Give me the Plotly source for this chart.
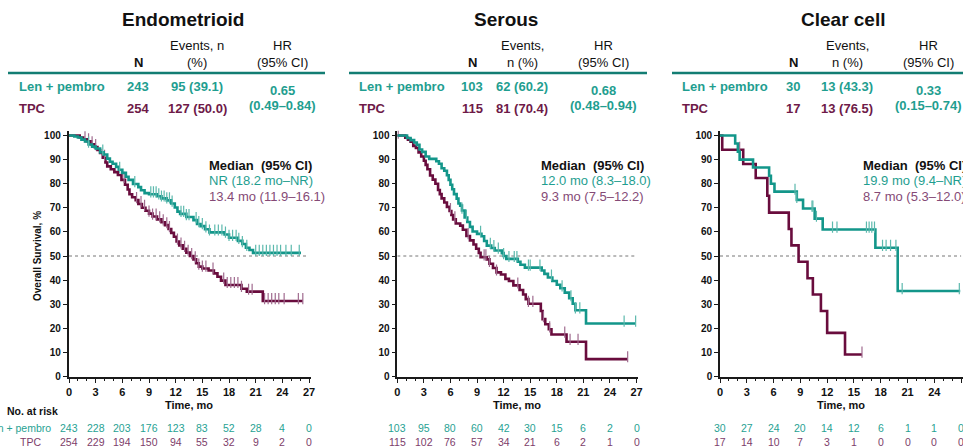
import numpy as np
import plotly.graph_objects as go

W, H = 963, 448

# ---------------- data ----------------
subtypes = ["Endometrioid", "Serous", "Clear cell"]
arm_labels = ["Len + pembro", "TPC"]
n_len = ["243", "103", "30"]
n_tpc = ["254", "115", "17"]
events_len = ["95 (39.1)", "62 (60.2)", "13 (43.3)"]
events_tpc = ["127 (50.0)", "81 (70.4)", "13 (76.5)"]
events_hdr1 = ["Events, n", "Events,", "Events,"]
events_hdr2 = ["(%)", "n (%)", "n (%)"]
hr_val = ["0.65", "0.68", "0.33"]
hr_ci = ["(0.49–0.84)", "(0.48–0.94)", "(0.15–0.74)"]
median_len = ["NR (18.2 mo–NR)", "12.0 mo (8.3–18.0)", "19.9 mo (9.4–NR)"]
median_tpc = ["13.4 mo (11.9–16.1)", "9.3 mo (7.5–12.2)", "8.7 mo (5.3–12.0)"]

risk_times = [0, 3, 6, 9, 12, 15, 18, 21, 24, 27]
risk_len = [
    [243, 228, 203, 176, 123, 83, 52, 28, 4, 0],
    [103, 95, 80, 60, 42, 30, 15, 6, 2, 0],
    [30, 27, 24, 20, 14, 12, 6, 1, 1, 0],
]
risk_tpc = [
    [254, 229, 194, 150, 94, 55, 32, 9, 2, 0],
    [115, 102, 76, 57, 34, 21, 6, 2, 1, 0],
    [17, 14, 10, 7, 3, 1, 0, 0, 0, 0],
]

# KM step curves (time in months, survival %)
endo_len_t = [0, 0.6, 1.0, 1.4, 1.8, 2.2, 2.6, 3.0, 3.5, 3.9, 4.3, 4.6, 4.9, 5.3, 5.6, 6.0, 6.4, 6.7,
              7.2, 7.8, 8.1, 8.5, 9.0, 9.9, 10.4, 11.0, 11.5, 11.9, 12.2, 12.5, 13.2, 14.0, 14.4,
              14.8, 15.3, 15.8, 17.5, 18.0, 19.0, 19.5, 19.9, 20.3, 20.7, 26.1]
endo_len_s = [100, 99.6, 99.2, 98.3, 97.5, 96.3, 95.4, 94.6, 93.0, 92.1, 90.4, 89.1, 88.3, 87.0, 85.8,
              84.5, 82.9, 81.6, 79.9, 78.6, 77.3, 76.1, 75.6, 74.8, 73.9, 73.1, 71.8, 70.1, 68.4,
              67.5, 66.2, 64.9, 63.3, 62.4, 61.1, 59.8, 58.9, 57.6, 56.3, 55.0, 53.4, 52.5, 51.3, 51.3]
endo_tpc_t = [0, 1.2, 1.6, 2.0, 2.5, 2.9, 3.2, 3.5, 3.8, 4.1, 4.3, 4.7, 5.1, 5.5, 5.9, 6.3, 6.6, 6.8,
              7.1, 7.5, 7.8, 8.2, 8.6, 9.0, 9.4, 9.9, 10.4, 10.8, 11.2, 11.5, 11.8, 12.1, 12.4, 12.8,
              13.2, 13.6, 14.0, 14.3, 14.6, 15.0, 15.7, 16.3, 16.7, 17.1, 17.6, 19.4, 20.0, 21.8, 26.3]
endo_tpc_s = [100, 99.2, 98.4, 97.6, 96.4, 95.2, 94.0, 92.8, 90.8, 88.8, 87.2, 86.0, 84.8, 83.6, 81.6,
              79.6, 77.6, 75.6, 74.4, 73.2, 71.6, 70.0, 68.8, 67.6, 66.4, 65.2, 64.0, 62.8, 61.2,
              59.6, 58.0, 56.0, 54.4, 53.0, 51.4, 50.0, 48.6, 47.0, 45.6, 44.8, 44.0, 42.8, 41.4,
              39.8, 38.0, 36.4, 35.2, 31.3, 31.3]
endo_len_cens = [2.2, 3.8, 5.7, 7.4, 9.2, 9.5, 9.8, 10.1, 10.4, 10.7, 11.0, 11.3, 11.6, 12.6, 12.9,
                 13.2, 13.5, 14.3, 14.6, 15.0, 15.4, 15.8, 16.4, 16.8, 17.2, 17.6, 18.0, 18.4, 18.8,
                 19.1, 19.5, 20.0, 21.0, 21.4, 21.8, 22.2, 22.6, 23.0, 23.4, 23.8, 24.4, 25.0, 25.9]
endo_tpc_cens = [1.8, 2.2, 2.6, 3.0, 4.0, 6.2, 7.6, 8.1, 8.5, 9.0, 9.4, 9.8, 10.2, 10.6, 11.0, 11.3,
                 12.2, 12.6, 13.0, 13.4, 13.8, 14.2, 14.6, 15.0, 15.4, 16.2, 17.4, 17.8, 18.2, 18.6,
                 19.0, 19.4, 20.2, 20.6, 22.0, 22.4, 22.8, 23.2, 23.6, 24.2, 25.8, 26.3]

ser_len_t = [0, 1.1, 1.5, 1.9, 2.2, 2.5, 2.8, 3.2, 3.6, 4.4, 4.7, 5.0, 5.3, 5.6, 5.8, 6.0, 6.2, 6.4,
             6.7, 6.9, 7.1, 7.3, 7.6, 7.9, 8.2, 8.5, 9.0, 9.5, 9.8, 10.1, 10.6, 11.0, 11.8, 12.0,
             12.3, 13.6, 13.9, 14.4, 16.3, 16.6, 17.0, 17.5, 18.0, 18.4, 18.9, 19.4, 19.8, 20.1,
             21.3, 26.9]
ser_len_s = [100, 99.0, 98.1, 97.1, 96.1, 94.2, 93.2, 91.3, 90.3, 89.3, 88.3, 86.4, 85.4, 83.5, 81.6,
             79.6, 77.7, 75.7, 73.8, 71.8, 70.9, 68.9, 66.0, 64.1, 62.1, 60.2, 59.2, 58.2, 56.2,
             54.3, 53.3, 52.3, 51.2, 50.0, 48.8, 47.6, 46.4, 45.2, 44.0, 42.6, 41.1, 39.6, 38.1,
             36.6, 34.8, 32.5, 30.2, 27.5, 22.0, 22.0]
ser_tpc_t = [0, 0.9, 1.2, 1.5, 1.8, 2.1, 2.4, 2.7, 3.0, 3.2, 3.4, 3.7, 4.0, 4.3, 4.6, 4.8, 5.0, 5.3,
             5.6, 5.9, 6.1, 6.3, 6.6, 7.1, 7.4, 7.8, 8.2, 8.6, 8.9, 9.2, 9.4, 10.1, 10.4, 10.8, 11.2,
             11.7, 12.2, 12.6, 13.1, 13.8, 14.2, 14.5, 14.8, 16.2, 16.4, 16.7, 17.1, 17.4, 19.1,
             21.3, 26.0]
ser_tpc_s = [100, 99.1, 98.3, 97.4, 95.7, 94.8, 93.0, 91.3, 89.5, 87.8, 86.0, 83.4, 81.7, 80.0, 77.4,
             75.7, 73.9, 72.2, 70.4, 68.7, 67.0, 65.2, 63.5, 62.6, 60.9, 58.3, 56.5, 54.8, 53.0,
             51.3, 49.5, 48.6, 46.8, 45.0, 43.2, 42.3, 40.5, 39.6, 37.8, 35.9, 34.0, 32.1, 30.2,
             27.2, 23.8, 21.7, 19.6, 17.4, 14.4, 7.2, 7.2]
ser_len_cens = [7.3, 7.8, 9.4, 10.5, 10.9, 11.4, 12.0, 12.6, 13.2, 13.5, 14.8, 15.0, 16.1, 17.4,
                18.6, 19.6, 20.1, 20.6, 25.6, 26.9]
ser_tpc_cens = [0.1, 6.0, 6.5, 8.0, 9.8, 10.0, 10.4, 11.2, 13.6, 14.8, 15.3, 16.5, 17.2, 18.9, 19.5,
                20.4, 26.0]

cc_len_t = [0, 1.7, 2.0, 2.2, 3.7, 5.5, 5.7, 6.1, 8.6, 9.3, 10.6, 11.5, 17.4, 19.9, 26.9]
cc_len_s = [100, 96.7, 93.3, 90.0, 86.7, 83.3, 80.0, 76.7, 73.3, 69.7, 65.5, 61.0, 53.4, 35.5, 35.5]
cc_tpc_t = [0, 0.25, 2.6, 4.0, 5.3, 5.5, 7.7, 8.0, 8.8, 9.8, 10.4, 11.3, 12.0, 14.0, 15.9]
cc_tpc_s = [100, 94.1, 88.2, 82.4, 75.0, 68.0, 61.2, 54.4, 47.6, 40.8, 34.0, 27.2, 18.1, 9.1, 9.1]
cc_len_cens = [8.4, 8.6, 10.3, 10.4, 10.8, 12.6, 13.1, 16.4, 16.7, 17.0, 17.3, 18.2, 18.6, 19.1,
               19.7, 20.4, 26.8]
cc_tpc_cens = [2.2, 15.9]

curves = [
    (endo_len_t, endo_len_s, endo_len_cens, endo_tpc_t, endo_tpc_s, endo_tpc_cens),
    (ser_len_t, ser_len_s, ser_len_cens, ser_tpc_t, ser_tpc_s, ser_tpc_cens),
    (cc_len_t, cc_len_s, cc_len_cens, cc_tpc_t, cc_tpc_s, cc_tpc_cens),
]

# ---------------- style ----------------
FONT = "Liberation Sans, Arial, sans-serif"
TEAL_LINE = "#13968a"
TEAL_TEXT = "#1f9e90"
TEAL_CENS = "#5cb9ad"
MAR_LINE = "#690c3d"
MAR_TEXT = "#6e1a48"
MAR_LIGHT = "#854a76"
MAR_CENS = "#a06b8f"
DARK = "#111111"

x0_px = [69, 397.3, 720]
ppm = [8.89, 8.86, 8.93]
XMAX = 27.2
y_top_px, y_bot_px = 130.7, 376.5

title_cx = [183, 506, 843]
line_x = [(8, 325), (349, 647), (672, 963)]
lab_x = [17, 357, 680]
n_cx = [138, 472, 793]
ev_cx = [197, 522, 847]
hr_cx = [282, 603, 928]
med_x = [207, 539, 861]


def px(x):
    return x / W


def py(y):
    return 1 - y / H


def ann(text, x, y, size, color, bold=False, xanchor="center", xref="paper", angle=0):
    return dict(text=text, x=(px(x) if xref == "paper" else x), y=py(y), xref=xref, yref="paper",
                showarrow=False, xanchor=xanchor, yanchor="middle", textangle=angle,
                font=dict(family=FONT, size=size, color=color,
                          weight="bold" if bold else "normal"))


def surv_at(ts, ss, t):
    i = int(np.searchsorted(np.array(ts), t, side="right")) - 1
    return ss[max(i, 0)]


fig = go.Figure()
annotations = []
shapes = []

for k in range(3):
    sfx = "" if k == 0 else str(k + 1)
    xa, ya = "x" + sfx, "y" + sfx
    lt, ls, lc, tt, tsv, tc = curves[k]

    # 50% reference line
    fig.add_trace(go.Scatter(x=[0, 27], y=[50, 50], mode="lines", xaxis=xa, yaxis=ya,
                             line=dict(color="#777777", width=1, dash="dot"),
                             hoverinfo="skip", showlegend=False))
    for (t, s, c, lcol, ccol) in [(tt, tsv, tc, MAR_LINE, MAR_CENS), (lt, ls, lc, TEAL_LINE, TEAL_CENS)]:
        fig.add_trace(go.Scatter(x=t, y=s, mode="lines", line_shape="hv", xaxis=xa, yaxis=ya,
                                 line=dict(color=lcol, width=2.6), showlegend=False))
        fig.add_trace(go.Scatter(x=c, y=[surv_at(t, s, v) + 1.0 for v in c], mode="markers",
                                 xaxis=xa, yaxis=ya,
                                 marker=dict(symbol="line-ns", size=8,
                                             line=dict(width=1.2, color=ccol)),
                                 showlegend=False))

    # axes
    d0 = x0_px[k]
    d1 = min(d0 + XMAX * ppm[k], W)
    axis_common = dict(showgrid=False, zeroline=False, showline=True, linecolor="#1a1a1a",
                       ticks="outside", tickcolor="#1a1a1a", ticklen=4, tickwidth=1.3,
                       automargin=False)
    fig.update_layout(**{
        ("xaxis" + sfx): dict(domain=[px(d0), px(d1)], range=[0, XMAX], anchor=ya,
                              tickvals=risk_times, linewidth=2,
                              minor=dict(dtick=1, ticklen=2, tickcolor="#1a1a1a", ticks="outside"),
                              tickfont=dict(family=FONT, size=11, color=DARK, weight="bold"),
                              **axis_common),
        ("yaxis" + sfx): dict(domain=[py(y_bot_px), py(y_top_px)], range=[0, 102], anchor=xa,
                              tickvals=list(range(0, 101, 10)), linewidth=2.4 if k == 0 else 1.6,
                              tickfont=dict(family=FONT, size=10, color=DARK, weight="bold"),
                              **axis_common),
    })

    # title & table
    annotations.append(ann(subtypes[k], title_cx[k], 19, 19, DARK, bold=True))
    annotations.append(ann("N", n_cx[k], 62, 13, DARK, bold=True))
    annotations.append(ann(events_hdr1[k], ev_cx[k], 46, 13, DARK))
    annotations.append(ann(events_hdr2[k], ev_cx[k], 62, 13, DARK))
    annotations.append(ann("HR", hr_cx[k], 46, 13, DARK))
    annotations.append(ann("(95% CI)", hr_cx[k], 62, 13, DARK))
    shapes.append(dict(type="line", xref="paper", yref="paper", x0=px(line_x[k][0]),
                       x1=px(line_x[k][1]), y0=py(73), y1=py(73),
                       line=dict(color="#137d73", width=2.5)))
    annotations.append(ann(arm_labels[0], lab_x[k], 86, 13, TEAL_TEXT, bold=True, xanchor="left"))
    annotations.append(ann(arm_labels[1], lab_x[k], 108, 13, MAR_TEXT, bold=True, xanchor="left"))
    annotations.append(ann(n_len[k], n_cx[k], 86, 13, TEAL_TEXT, bold=True))
    annotations.append(ann(n_tpc[k], n_cx[k], 108, 13, MAR_TEXT, bold=True))
    annotations.append(ann(events_len[k], ev_cx[k], 86, 13, TEAL_TEXT, bold=True))
    annotations.append(ann(events_tpc[k], ev_cx[k], 108, 13, MAR_TEXT, bold=True))
    annotations.append(ann(hr_val[k], hr_cx[k], 90, 13, TEAL_TEXT, bold=True))
    annotations.append(ann(hr_ci[k], hr_cx[k], 105, 13, TEAL_TEXT, bold=True))

    # medians
    annotations.append(ann("Median  (95% CI)", med_x[k], 165, 13, DARK, bold=True, xanchor="left"))
    annotations.append(ann(median_len[k], med_x[k], 180, 13, TEAL_TEXT, xanchor="left"))
    annotations.append(ann(median_tpc[k], med_x[k], 196, 13, MAR_LIGHT, xanchor="left"))

    # x title
    annotations.append(ann("Time, mo", 13.5, 405, 11, DARK, bold=True, xref=xa))

    # at risk numbers
    for t, v in zip(risk_times, risk_len[k]):
        annotations.append(ann(str(v), t, 428, 10.5, "#27a293", xref=xa))
    for t, v in zip(risk_times, risk_tpc[k]):
        annotations.append(ann(str(v), t, 442, 10.5, "#7d3d6a", xref=xa))

annotations.append(ann("Overall Survival, %", 37, 256, 10, DARK, bold=True, angle=-90))
annotations.append(ann("No. at risk", 5, 411, 10.5, DARK, bold=True, xanchor="left"))
annotations.append(ann(arm_labels[0], 53, 428, 10.5, "#27a293", xanchor="right"))
annotations.append(ann(arm_labels[1], 43, 442, 10.5, "#7d3d6a", xanchor="right"))

fig.update_layout(width=W, height=H, margin=dict(l=0, r=0, t=0, b=0, autoexpand=False),
                  paper_bgcolor="white", plot_bgcolor="white", showlegend=False,
                  annotations=annotations, shapes=shapes,
                  font=dict(family=FONT, color=DARK))

fig.write_html("out.html", config={"displayModeBar": False},
               post_script="document.body.style.margin='0';document.body.style.overflow='hidden';")
